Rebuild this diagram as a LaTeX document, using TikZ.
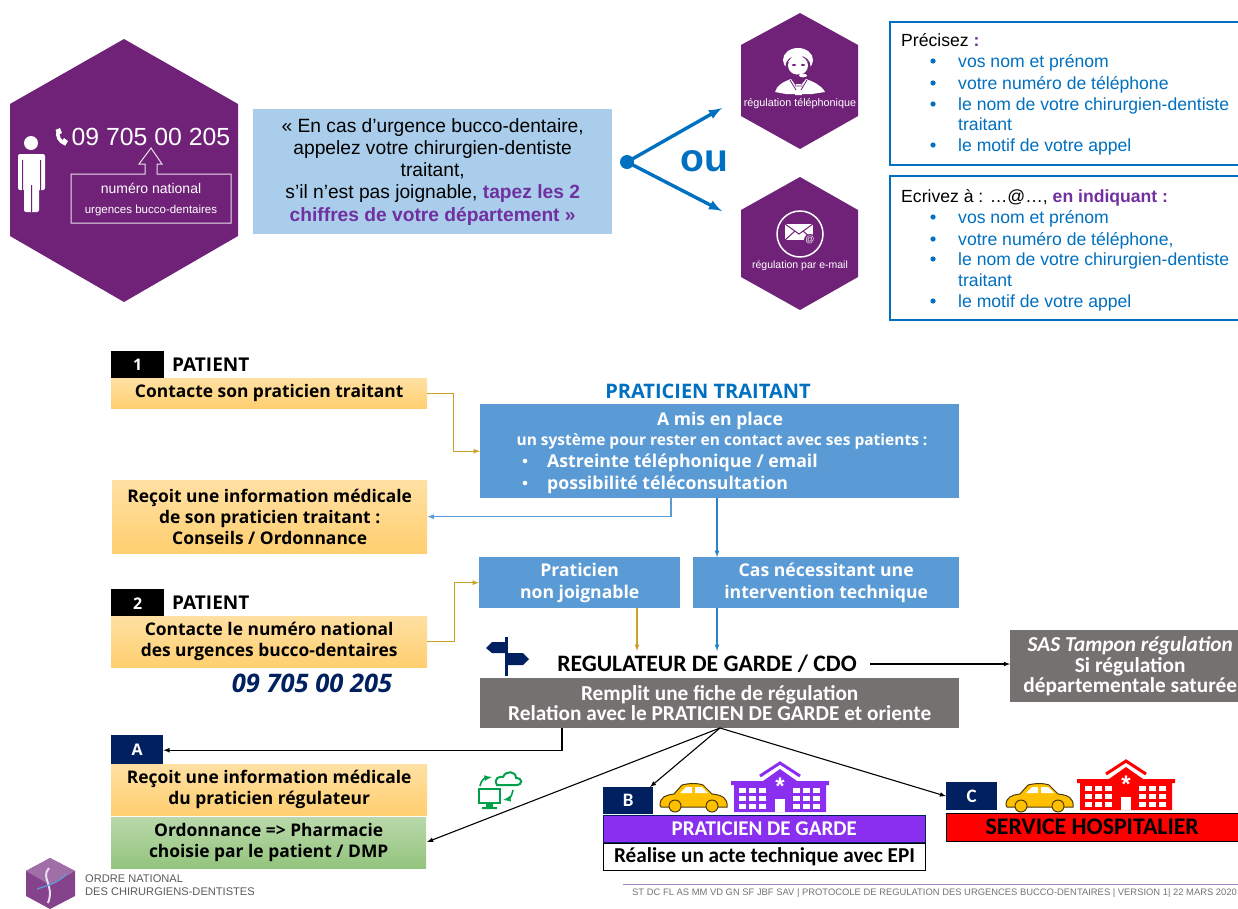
\documentclass[tikz,border=0pt]{standalone}
\usepackage{fontspec}
\setmainfont{Liberation Sans}
\newfontfamily\opensans{Open Sans}
\newfontfamily\carlito{Carlito}
\usepackage{tikz}
\definecolor{hexpurple}{HTML}{6F2277}
\definecolor{txtpurple}{HTML}{7030A0}
\definecolor{ciel}{HTML}{A9CDEA}
\definecolor{bleu}{HTML}{0070C0}
\definecolor{bleubox}{HTML}{5B9BD5}
\definecolor{gris}{HTML}{767171}
\definecolor{marine}{HTML}{002060}
\definecolor{ocre}{HTML}{C9A227}
\definecolor{violet}{HTML}{8A2EF0}
\definecolor{jaune}{HTML}{FFC000}
\definecolor{vert}{HTML}{00A04A}
\definecolor{ortop}{HTML}{FFE0A3}
\definecolor{orbot}{HTML}{FFCF70}
\definecolor{grtop}{HTML}{B9D8AA}
\definecolor{grbot}{HTML}{93C47D}
\newcommand{\fsz}[2]{\fontsize{#1}{#2}\selectfont}
\tikzset{
box/.style={anchor=north west,inner sep=0pt,align=center},
orbox/.style={box,top color=ortop,bottom color=orbot,text=black,font=\opensans\bfseries\fsz{17.4}{21}},
grbox/.style={box,top color=grtop,bottom color=grbot,text=black,font=\opensans\bfseries\fsz{17.4}{21}},
blbox/.style={box,fill=bleubox,text=white,font=\opensans\bfseries\fsz{17.6}{22}},
gybox/.style={box,fill=gris,text=white,font=\carlito\bfseries\fsz{21.3}{20.5}},
tag/.style={box,text=white,font=\opensans\bfseries\fsz{16}{16}},
head/.style={anchor=west,inner sep=0pt,font=\opensans\bfseries\fsz{19}{19}},
lst/.style={anchor=base west,text=bleu,inner sep=0pt,font=\fsz{17.6}{20}},
frame/.style={draw=bleu,line width=2pt,fill=white},
pics/car/.style={code={
\draw[fill=jaune,draw=black!70!jaune,line width=1pt] (0,22) .. controls (0,14) and (6,12) .. (14,11) -- (22,2) .. controls (30,0) and (38,0) .. (43,2) -- (52,11) .. controls (62,12) and (68,15) .. (67,24) -- (1,24) -- cycle;
\fill[white] (20,10) -- (26,4) -- (32,4) -- (32,10) -- cycle (35,4) -- (42,4) -- (48,10) -- (35,10) -- cycle;
\draw[fill=jaune,draw=black!70!jaune,line width=1pt] (15,23) circle (6) (52,23) circle (6);
}},
pics/hosto/.style={code={
\draw[#1,line width=3pt] (29,14) -- (49,1) -- (69,14);
\fill[#1] (32,19) -- (49,7) -- (66,19) -- cycle (0,19) rectangle (98,23) (3,23) rectangle (95,50);
\node[text=white,font=\bfseries\fsz{24}{24},inner sep=0pt] (star) at (49,24) {*};
\foreach \r in {26,34,42}{
\foreach \c in {8,18,28,62,72,82}{
\fill[white] (\c,\r) rectangle ++(7,5);
}}
\fill[white] (44,37) rectangle (54,50);
}}
}
\begin{document}
\begin{tikzpicture}[x=1pt,y=-1pt]
\useasboundingbox (0,0) rectangle (1238,908);

\fill[hexpurple] (124,39) -- (238,104) -- (238,236) -- (124,302) -- (10,236) -- (10,104) -- cycle;
\fill[white] (31,143) circle (7);
\fill[white,rounded corners=2pt] (18,154) rectangle (45,190) (24,154) rectangle (39,212);
\fill[hexpurple] (22,160) rectangle (23,191) (40,160) rectangle (41,191) (31,185) rectangle (32,212);
\draw[white,line width=3.5pt] (58.5,130) .. controls (56,136) and (60,142) .. (65,143.5);
\fill[white] (55.5,130) -- (60,128) -- (62,133) -- (58,135) -- cycle (62,141) -- (64,138) -- (68,141) -- (65,146) -- cycle;
\node[font=\fsz{24.8}{25},text=white,inner sep=0pt] (tel) at (151,137) {09 705 00 205};
\draw[white!85!hexpurple,line width=1pt] (145,174) -- (145,164) -- (139,164) -- (151,148) -- (162,164) -- (157,164) -- (157,174) -- (231,174) -- (231,223) -- (71,223) -- (71,174) -- cycle;
\node[font=\fsz{14}{14},text=white,inner sep=0pt] (num) at (151,188) {numéro national};
\node[font=\fsz{11.5}{12},text=white,inner sep=0pt] (urg) at (151,211) {urgences bucco-dentaires};

\node[box,fill=ciel,minimum width=359pt,minimum height=125pt,font=\fsz{19.2}{22.2}] (appel) at (253,109) {« En cas d’urgence bucco-dentaire,\\appelez votre chirurgien-dentiste\\traitant,\\s’il n’est pas joignable, \textcolor{txtpurple}{\bfseries tapez les 2}\\\textcolor{txtpurple}{\bfseries chiffres de votre département »}};

\coordinate (dot) at (627,162);
\coordinate (tele) at (722,108);
\coordinate (mail) at (722,211);
\fill[bleu] (dot) circle (7);
\draw[-latex,bleu,line width=3.4pt] (dot) -- (tele);
\draw[-latex,bleu,line width=3.4pt] (dot) -- (mail);
\node[text=bleu,font=\bfseries\fsz{39}{39},inner sep=0pt] (ou) at (704,161) {ou};

\fill[hexpurple] (800,13) -- (858,45) -- (858,116) -- (800,149) -- (741,116) -- (741,45) -- cycle;
\fill[white] (798,60) ellipse (15 and 12);
\fill[hexpurple] (798,66) ellipse (12.5 and 10.5);
\fill[white] (798,65.5) ellipse (10 and 9.5);
\fill[white] (788,62) .. controls (793,61) and (800,60) .. (804,55) -- (796,52) -- cycle;
\fill[hexpurple] (794,65) ellipse (2 and 1) (803,65) ellipse (2 and 1);
\draw[hexpurple,line width=1.4pt] (786,67) .. controls (789,75) and (795,76) .. (800,75);
\fill[white] (803,75.5) ellipse (4 and 1.8);
\fill[white] (775,92) .. controls (777,85) and (783,82) .. (791,79) -- (798,89) -- (806,79) .. controls (814,82) and (821,85) .. (825,92) -- (812,94) -- (786,94) -- cycle;
\fill[white] (796,84) -- (801,84) -- (802,95) -- (795,95) -- cycle;
\draw[hexpurple,line width=.8pt] (790,80) -- (796,90) (807,80) -- (801,90) (795,86) -- (802,86);
\node[font=\fsz{10.8}{11},text=white,inner sep=0pt] (regtel) at (800,104) {régulation téléphonique};

\fill[hexpurple] (800,177) -- (858,210) -- (858,277) -- (800,310) -- (741,277) -- (741,210) -- cycle;
\draw[white,line width=1.5pt] (800,234) circle (23);
\fill[white] (785,224) rectangle (813,240);
\draw[hexpurple,line width=1pt] (785,224) -- (799,234) -- (813,224) (785,240) -- (795,231) (813,240) -- (803,231);
\fill[hexpurple] (810,240) circle (6);
\node[font=\fsz{9}{9},text=white,inner sep=0pt] (at) at (810,240) {@};
\node[font=\fsz{10.5}{11},text=white,inner sep=0pt] (regmail) at (800,266) {régulation par e-mail};

\draw[frame] (890,22) -- (1240,22) -- (1240,165) -- (890,165) -- cycle;
\draw[frame] (890,176) -- (1240,176) -- (1240,320) -- (890,320) -- cycle;
\node[anchor=base west,font=\fsz{17.6}{20},inner sep=0pt] (prec) at (901,46) {Précisez \textcolor{txtpurple}{\bfseries :}};
\node[anchor=base west,font=\fsz{17.6}{20},inner sep=0pt] (ecri) at (901,202) {Ecrivez à : …@…, \textcolor{txtpurple}{\bfseries en indiquant :}};
\foreach \y/\txt in {61/vos nom et prénom,83/votre numéro de téléphone,104/le nom de votre chirurgien-dentiste,145/le motif de votre appel,217/vos nom et prénom,{239/votre numéro de téléphone,},259/le nom de votre chirurgien-dentiste,301/le motif de votre appel}{
\fill[bleu] (933,\y) circle (2.6);
\node[lst] (l\y) at (958,\y+6) {\txt};
}
\node[lst] (tr1) at (958,130) {traitant};
\node[lst] (tr2) at (958,286) {traitant};

\node[box,fill=black,minimum width=53pt,minimum height=28pt,text=white,font=\opensans\bfseries\fsz{16}{16}] (un) at (111,351) {1};
\node[head] (pat1) at (172,365) {PATIENT};
\node[orbox,minimum width=316pt,minimum height=30pt] (contact) at (111,378) {Contacte son praticien traitant};
\node[text=bleu,font=\opensans\bfseries\fsz{20}{20},inner sep=0pt] (trait) at (708,391) {PRATICIEN TRAITANT};
\node[blbox,minimum width=479pt,minimum height=94pt] (mis) at (480,404) {};
\node[font=\opensans\bfseries\fsz{17.6}{18},text=white,inner sep=0pt] (mis1) at (720,421) {A mis en place};
\node[font=\opensans\bfseries\fsz{15.5}{16},text=white,inner sep=0pt] (mis2) at (722,441) {un système pour rester en contact avec ses patients :};
\fill[white] (525,461) circle (2.3) (525,483) circle (2.3);
\node[head,text=white,font=\opensans\bfseries\fsz{17.7}{18}] (mis3) at (547,463) {Astreinte téléphonique / email};
\node[head,text=white,font=\opensans\bfseries\fsz{17.7}{18}] (mis4) at (547,485) {possibilité téléconsultation};
\node[orbox,minimum width=315pt,minimum height=73pt] (recoit) at (112,480) {Reçoit une information médicale\\de son praticien traitant :\\Conseils / Ordonnance};
\node[blbox,minimum width=201pt,minimum height=51pt] (nonj) at (479,557) {Praticien\\non joignable};
\node[blbox,minimum width=266pt,minimum height=51pt] (cas) at (693,557) {Cas nécessitant une\\intervention technique};

\node[box,fill=black,minimum width=53pt,minimum height=28pt,text=white,font=\opensans\bfseries\fsz{16}{16}] (deux) at (111,589) {2};
\node[head] (pat2) at (172,603) {PATIENT};
\node[orbox,minimum width=316pt,minimum height=51pt] (numero) at (111,616) {Contacte le numéro national\\des urgences bucco-dentaires};
\node[text=marine,font=\opensans\bfseries\itshape\fsz{25.5}{26},inner sep=0pt] (tel2) at (312,683) {09 705 00 205};

\fill[marine] (505,637) rectangle (508,676);
\fill[marine] (506,642) -- (492,642) -- (486,648) -- (492,653) -- (506,653) -- cycle;
\fill[marine] (506,653) -- (523,653) -- (529,659) -- (523,665) -- (506,665) -- cycle;
\node[font=\carlito\bfseries\fsz{23.6}{24},inner sep=0pt] (regul) at (707,664) {REGULATEUR DE GARDE / CDO};
\node[gybox,minimum width=479pt,minimum height=50pt] (fiche) at (480,678) {Remplit une fiche de régulation\\Relation avec le PRATICIEN DE GARDE et oriente};
\node[gybox,minimum width=240pt,minimum height=72pt] (sas) at (1010,630) {\itshape SAS Tampon régulation\\Si régulation\\départementale saturée};

\node[tag,fill=marine,minimum width=52pt,minimum height=30pt] (tagA) at (111,735) {A};
\node[orbox,minimum width=316pt,minimum height=51pt] (inforeg) at (111,764) {Reçoit une information médicale\\du praticien régulateur};
\node[grbox,minimum width=315pt,minimum height=51pt] (ordo) at (111,817) {Ordonnance => Pharmacie\\choisie par le patient / DMP};

\node[tag,fill=marine,minimum width=50pt,minimum height=27pt,font=\carlito\bfseries\fsz{19}{19}] (tagB) at (603,787) {B};
\pic at (660,783) {car};
\pic at (731,762) {hosto=violet};
\node[box,fill=violet,draw=marine,line width=.5pt,minimum width=322pt,minimum height=27pt,text=white,font=\carlito\bfseries\fsz{21}{21}] (garde) at (603,815) {PRATICIEN DE GARDE};
\node[box,fill=white,draw=black,line width=1pt,minimum width=322pt,minimum height=27pt,font=\carlito\bfseries\fsz{21.2}{21}] (acte) at (603,843) {Réalise un acte technique avec EPI};

\node[tag,fill=marine,minimum width=51pt,minimum height=28pt,font=\carlito\bfseries\fsz{19}{19}] (tagC) at (946,782) {C};
\pic at (1006,783) {car};
\pic at (1077,760) {hosto=red};
\node[box,fill=red,draw=black,line width=.5pt,minimum width=292pt,minimum height=28pt,font=\carlito\bfseries\fsz{23.8}{24}] (hosp) at (946,813) {SERVICE HOSPITALIER};

\coordinate (misA) at (671,498);
\coordinate (misB) at (717,498);
\coordinate (casB) at (717,557);
\coordinate (nonS) at (637,608);
\coordinate (regN) at (637,651);
\coordinate (casS) at (717,608);
\coordinate (regM) at (717,651);
\coordinate (regE) at (870,664);
\coordinate (ficheA) at (562,728);
\coordinate (ficheB) at (720,728);
\coordinate (garN) at (650,787);
\coordinate (ordoE) at (427,842);
\draw[-latex,ocre,line width=1.2pt] (contact.east) -- ++(26,0) |- (mis.west);
\draw[-latex,bleubox,line width=1.2pt] (misA) |- (recoit.east);
\draw[-latex,bleu!85!white,line width=1.2pt] (misB) -- (casB);
\draw[-latex,ocre,line width=1.2pt] (numero.east) -- ++(27,0) |- (nonj.west);
\draw[-latex,ocre,line width=1.2pt] (nonS) -- (regN);
\draw[-latex,bleu!85!white,line width=1.2pt] (casS) -- (regM);
\draw[-latex,line width=1.1pt] (regE) -- (sas.west |- regE);
\draw[-latex,line width=1.1pt] (ficheA) |- (tagA.east);
\draw[-latex,line width=1.1pt] (ficheB) -- (ordoE);
\draw[-latex,line width=1.1pt] (ficheB) -- (garN);
\draw[-latex,line width=1.1pt] (ficheB) -- (tagC.west);

\draw[vert,line width=2.4pt] (479,789) rectangle (500,803);
\fill[vert] (486,804) rectangle (493,807) (482,807) rectangle (497,809);
\draw[vert,line width=2pt] (497,785) .. controls (493,778) and (500,776) .. (503,777) .. controls (506,770) and (516,771) .. (516,778) .. controls (523,778) and (523,785) .. (516,785) -- cycle;
\draw[-latex,vert,line width=1.6pt] (480,786) .. controls (481,780) and (485,778) .. (492,777);
\draw[-latex,vert,line width=1.6pt] (513,790) .. controls (512,796) and (509,799) .. (503,800);

\fill[hexpurple!85!white] (50,858) -- (75,871) -- (75,896) -- (50,909) -- (26,896) -- (26,871) -- cycle;
\fill[hexpurple!65!white] (50,858) -- (75,871) -- (50,885) -- (26,871) -- cycle;
\draw[white!85!hexpurple,line width=2pt] (49,868) .. controls (40,878) and (55,885) .. (48,903);
\draw[bleubox,line width=1.2pt] (37,889) .. controls (45,886) and (58,884) .. (66,874);
\node[anchor=west,text=black!65,font=\fsz{11.1}{12},inner sep=0pt] (ordre1) at (85,879) {ORDRE NATIONAL};
\node[anchor=west,text=black!65,font=\fsz{11.1}{12},inner sep=0pt] (ordre2) at (85,892) {DES CHIRURGIENS-DENTISTES};

\draw[txtpurple!60!white,line width=1pt] (623,884) -- (1238,884);
\node[anchor=west,text=black!55,font=\fsz{9.4}{10},inner sep=0pt] (pied) at (632,893) {ST DC FL AS MM VD GN SF JBF SAV | PROTOCOLE DE REGULATION DES URGENCES BUCCO-DENTAIRES | VERSION 1| 22 MARS 2020};
\end{tikzpicture}
\end{document}
